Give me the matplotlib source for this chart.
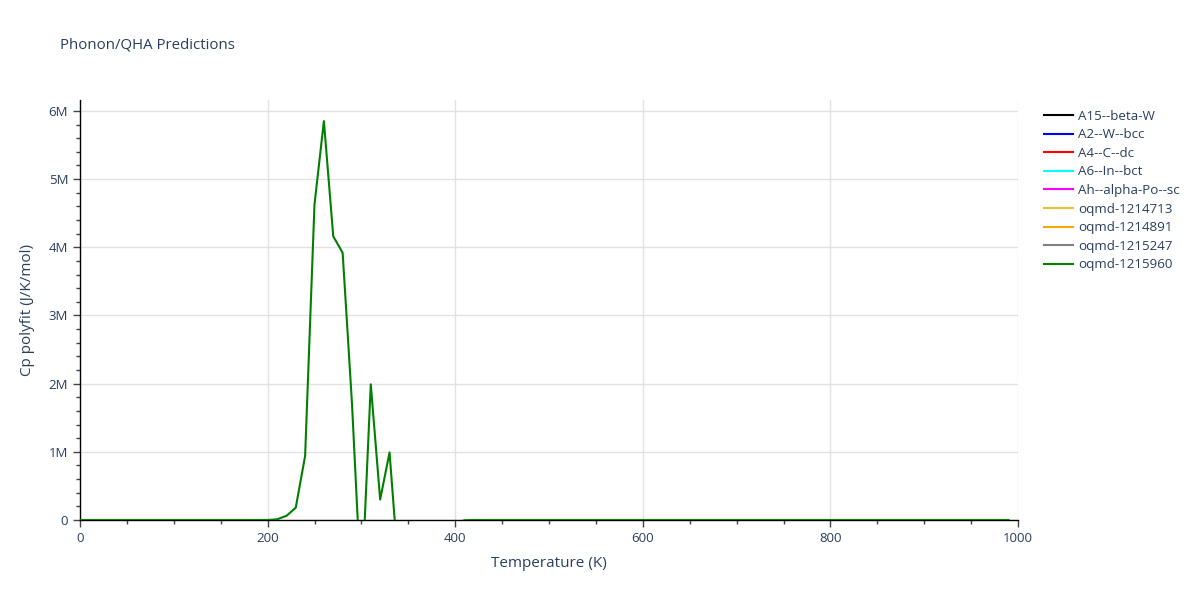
import numpy as np
import matplotlib
matplotlib.use('Agg')
from matplotlib import pyplot as plt
from matplotlib.ticker import MultipleLocator, FuncFormatter

# temperature grid (K)
temps = np.arange(0, 1000, 10)

# Cp polyfit of oqmd-1215960 (J/K/mol)
cp_green = [
    0, 2, 6, 10, 14, 17, 19, 21, 22, 23,
    24, 24, 25, 25, 25, 26, 26, 26, 26, 27,
    300, 10000, 60000, 180000, 940000, 4630000, 5850000, 4160000, 3920000, 1700000,
    -1100000, 1990000, 300000, 990000, -810000, -900000, -700000, -500000, -300000, -150000,
    -50000, -3000, 300, 28, 28, 28, 28, 28, 28, 28,
    28, 28, 28, 29, 29, 29, 29, 29, 29, 29,
    29, 29, 29, 29, 29, 29, 29, 29, 29, 29,
    30, 30, 30, 30, 30, 30, 30, 30, 30, 30,
    30, 30, 30, 30, 30, 30, 30, 30, 30, 30,
    30, 30, 30, 30, 30, 30, 30, 30, 30, 30,
]

# the other structures only show up in the legend (no visible data)
other_names = ['A15--beta-W', 'A2--W--bcc', 'A4--C--dc', 'A6--In--bct',
               'Ah--alpha-Po--sc', 'oqmd-1214713', 'oqmd-1214891', 'oqmd-1215247']
other_colors = ['black', 'blue', 'red', 'cyan', 'magenta', '#e8c030', 'orange', 'gray']

txt = '#2a3f5f'
plt.rcParams['font.family'] = ['Open Sans', 'DejaVu Sans']

fig = plt.figure(figsize=(12, 6), dpi=100)
ax = fig.add_axes([80 / 1200, 80 / 600, 938 / 1200, 420 / 600])

for name, col in zip(other_names, other_colors):
    ax.plot([], [], color=col, lw=1.5, label=name)
ax.plot(temps, cp_green, color='green', lw=1.5, label='oqmd-1215960', zorder=3)

ax.set_xlim(0, 1000)
ax.set_ylim(0, 6.16e6)

ax.xaxis.set_major_locator(MultipleLocator(200))
ax.xaxis.set_minor_locator(MultipleLocator(50))
ax.yaxis.set_major_locator(MultipleLocator(1e6))
ax.yaxis.set_minor_locator(MultipleLocator(2e5))
ax.yaxis.set_major_formatter(FuncFormatter(lambda v, p: '0' if v == 0 else '%dM' % round(v / 1e6)))

ax.grid(True, which='major', color='#e2e2e2', lw=1)
ax.set_axisbelow(True)
for s in ['top', 'right']:
    ax.spines[s].set_visible(False)
for s in ['left', 'bottom']:
    ax.spines[s].set_color('black')
    ax.spines[s].set_linewidth(1)
    ax.spines[s].set_zorder(2.5)

ax.tick_params(which='major', length=5, width=1, color='#444444', labelcolor=txt, labelsize=9.5)
ax.tick_params(which='minor', length=3, width=1, color='#444444')

ax.set_xlabel('Temperature (K)', color=txt, fontsize=11, labelpad=8)
ax.set_ylabel('Cp polyfit (J/K/mol)', color=txt, fontsize=11, labelpad=10)

fig.text(60 / 1200, 1 - 45 / 600, 'Phonon/QHA Predictions', color=txt, fontsize=10.8, va='center')

leg = ax.legend(loc='upper left', bbox_to_anchor=(1037 / 1200, 1 - 103 / 600),
                bbox_transform=fig.transFigure, frameon=False, fontsize=9.6,
                handlelength=2.2, handletextpad=0.4, labelspacing=0.42, borderpad=0)
for t in leg.get_texts():
    t.set_color(txt)

fig.savefig('out.png', dpi=100)
